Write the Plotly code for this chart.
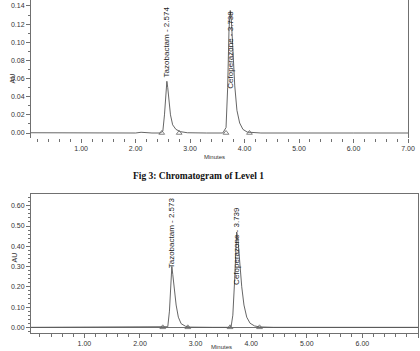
import plotly.graph_objects as go

# ---- data ----
top_time = [0.08, 0.5, 1.0, 1.5, 2.0, 2.1, 2.2, 2.3, 2.45, 2.50, 2.53, 2.555, 2.574, 2.59, 2.61, 2.64, 2.68,
            2.74, 2.82, 2.95, 3.3, 3.6, 3.66, 3.69, 3.715, 3.738, 3.76, 3.79, 3.82, 3.86, 3.91, 3.97, 4.05,
            4.3, 5.0, 6.0, 7.0]
top_au = [0.0003, 0.0002, 0.0004, 0.0002, 0.0, 0.0008, 0.0003, 0.0, 0.0, 0.002, 0.02, 0.048, 0.057, 0.05,
          0.035, 0.02, 0.009, 0.004, 0.0015, 0.0003, 0.0, 0.0, 0.006, 0.05, 0.115, 0.135, 0.122, 0.085,
          0.052, 0.025, 0.011, 0.004, 0.001, 0.0, 0.0003, 0.0, 0.0]
top_marks = [2.48, 2.80, 3.66, 4.09]

bot_time = [0.04, 1.0, 2.0, 2.4, 2.5, 2.53, 2.555, 2.573, 2.59, 2.62, 2.65, 2.69, 2.74, 2.82, 2.9, 3.3,
            3.6, 3.64, 3.67, 3.70, 3.72, 3.739, 3.76, 3.79, 3.83, 3.87, 3.92, 3.98, 4.06, 4.15, 4.4, 5.0,
            6.0, 7.0]
bot_au = [0, 0, 0, 0, 0.003, 0.08, 0.24, 0.30, 0.26, 0.17, 0.11, 0.05, 0.018, 0.005, 0.001, 0, 0, 0.005,
          0.06, 0.22, 0.38, 0.47, 0.44, 0.33, 0.2, 0.11, 0.05, 0.02, 0.007, 0.002, 0, 0, 0, 0]
bot_marks = [2.41, 2.86, 3.62, 4.15]

top_peaks = ["Tazobactam - 2.574", "Cefoperazone - 3.738"]
top_peak_x = [2.574, 3.738]
top_label_y = [0.0595, 0.047]
bot_peaks = ["Tazobactam - 2.573", "Cefoperazone - 3.739"]
bot_peak_x = [2.573, 3.739]
bot_label_y = [0.283, 0.198]

x_ticks = [1, 2, 3, 4, 5, 6, 7]
x_tick_text = ["1.00", "2.00", "3.00", "4.00", "5.00", "6.00", "7.00"]

W, H = 420, 351
LINE = "#555555"
AX = "#707070"
FONT = "Liberation Sans, Arial, sans-serif"

fig = go.Figure()
fig.add_trace(go.Scatter(x=top_time, y=top_au, mode="lines", line=dict(color=LINE, width=0.9),
                         xaxis="x", yaxis="y", showlegend=False))
fig.add_trace(go.Scatter(x=top_marks, y=[0] * len(top_marks), mode="markers",
                         marker=dict(symbol="triangle-up-open", size=5, color="#666", line=dict(width=0.8)),
                         xaxis="x", yaxis="y", showlegend=False))
fig.add_trace(go.Scatter(x=bot_time, y=bot_au, mode="lines", line=dict(color=LINE, width=0.9),
                         xaxis="x2", yaxis="y2", showlegend=False))
fig.add_trace(go.Scatter(x=bot_marks, y=[0] * len(bot_marks), mode="markers",
                         marker=dict(symbol="triangle-up-open", size=5, color="#666", line=dict(width=0.8)),
                         xaxis="x2", yaxis="y2", showlegend=False))

tickfont = dict(family=FONT, size=7, color="#333")

common_x = dict(tickmode="array", tickvals=x_ticks, ticktext=x_tick_text, ticks="outside", ticklen=4,
                tickcolor=AX, tickfont=tickfont, showgrid=False, zeroline=False, automargin=False,
                minor=dict(dtick=0.2, tick0=0, ticks="outside", ticklen=3, tickcolor=AX, showgrid=False))

fig.update_layout(
    width=W, height=H, margin=dict(l=0, r=0, t=0, b=0),
    paper_bgcolor="white", plot_bgcolor="white",
    xaxis=dict(domain=[31 / W, 408 / W], range=[0.08, 7.0], anchor="y", showline=False, **common_x),
    yaxis=dict(domain=[1 - 138 / H, 1.0], range=[-0.0055, 0.1466], anchor="x",
               dtick=0.02, tick0=0, tickformat=".2f", ticks="outside", ticklen=4, tickcolor=AX,
               tickfont=tickfont, showline=True, linecolor=AX, linewidth=1, mirror=True,
               showgrid=False, zeroline=False, automargin=False,
               minor=dict(dtick=0.01, ticks="outside", ticklen=2, tickcolor=AX, showgrid=False)),
    xaxis2=dict(domain=[31 / W, 418 / W], range=[0.04, 7.0], anchor="y2", showline=True, linecolor=AX,
                linewidth=1, mirror=True, **common_x),
    yaxis2=dict(domain=[1 - 333 / H, 1 - 194 / H], range=[-0.028, 0.658], anchor="x2",
                dtick=0.1, tick0=0, tickformat=".2f", ticks="outside", ticklen=4, tickcolor=AX,
                tickfont=tickfont, showline=True, linecolor=AX, linewidth=1, mirror=True,
                showgrid=False, zeroline=True, zerolinecolor=AX, zerolinewidth=1, automargin=False,
                minor=dict(dtick=0.02, ticks="outside", ticklen=2, tickcolor=AX, showgrid=False)),
)

annos = []
for t, x, y in zip(top_peaks, top_peak_x, top_label_y):
    annos.append(dict(x=x, y=y, xref="x", yref="y", text=t, textangle=-90, showarrow=False,
                      xanchor="center", yanchor="bottom", font=dict(family=FONT, size=8, color="#222")))
for t, x, y in zip(bot_peaks, bot_peak_x, bot_label_y):
    annos.append(dict(x=x, y=y, xref="x2", yref="y2", text=t, textangle=-90, showarrow=False,
                      xanchor="center", yanchor="bottom", font=dict(family=FONT, size=8, color="#222")))
annos += [
    dict(x=7 / W, y=1 - 72 / H, xref="paper", yref="paper", text="AU", textangle=-90, showarrow=False,
         font=dict(family=FONT, size=7, color="#333")),
    dict(x=8 / W, y=1 - 265 / H, xref="paper", yref="paper", text="AU", textangle=-90, showarrow=False,
         font=dict(family=FONT, size=7, color="#333")),
    dict(x=215 / W, y=1 - 157 / H, xref="paper", yref="paper", text="Minutes", showarrow=False,
         font=dict(family=FONT, size=6, color="#333")),
    dict(x=221 / W, y=1 - 347 / H, xref="paper", yref="paper", text="Minutes", showarrow=False,
         yanchor="middle", font=dict(family=FONT, size=6, color="#333")),
    dict(x=198 / W, y=1 - 176 / H, xref="paper", yref="paper", text="<b>Fig 3: Chromatogram of Level 1</b>",
         showarrow=False, font=dict(family="Liberation Serif, Times New Roman, serif", size=9.5, color="#111")),
]
fig.update_layout(annotations=annos)

fig.write_html("out.html")
